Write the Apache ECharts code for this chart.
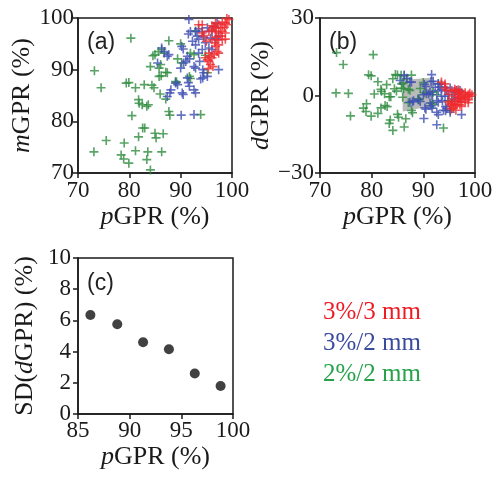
<!DOCTYPE html>
<html>
<head>
<meta charset="utf-8">
<script src="https://cdn.jsdelivr.net/npm/echarts@6/dist/echarts.min.js"></script>
<style>html,body{margin:0;padding:0;background:#fff;}#c{width:498px;height:479px;}</style>
</head>
<body>
<div id="c"></div>
<script>
// ---- data ----
const seriesNames = ['3%/3 mm', '3%/2 mm', '2%/2 mm'];

// 3%/3 mm (red)
const pRed = [96.1,96.8,97.4,98.1,98.7,99.0,98.5,97.8,96.9,96.4,95.5,96.1,96.8,97.4,98.1,98.7,96.1,96.6,97.1,97.4,98.1,98.7,95.5,95.8,96.1,96.5,95.2,95.5,95.8,94.8,96.8,97.1,97.4,94.2,94.5,99.4,99.0,93.5,94.2,97.0,95.0,97.8,95.4,96.3];
const mRed = [98.5,99.0,98.7,99.2,99.0,98.7,98.2,98.1,98.1,98.3,97.4,97.7,97.4,97.1,97.4,97.1,95.8,95.2,95.8,94.8,95.8,95.9,93.2,92.6,92.3,92.9,91.9,91.6,91.0,92.3,94.5,93.5,93.2,97.1,96.6,99.7,99.9,98.7,98.7,96.3,95.5,96.5,90.2,90.6];
const dRed = [2.4,2.2,1.3,1.1,0.3,-0.3,-0.3,0.3,1.2,1.9,1.9,1.6,0.6,-0.3,-0.7,-1.6,-0.3,-1.4,-1.3,-2.6,-2.3,-2.8,-2.3,-3.2,-3.8,-3.6,-3.3,-3.9,-4.8,-2.5,-2.3,-3.6,-4.2,2.9,2.1,0.3,0.9,5.2,4.5,-0.7,0.5,-1.3,-5.2,-5.7];

// 3%/2 mm (blue)
const pBlue = [91.6,91.9,91.5,92.9,93.5,94.2,93.2,93.5,94.5,92.3,92.9,90.2,90.5,86.3,86.8,87.4,87.7,85.5,91.3,91.7,90.0,90.6,91.0,92.6,92.9,93.7,94.3,94.5,93.9,94.3,95.2,97.4,91.3,91.5,91.7,89.4,89.0,88.1,87.9,87.4,90.3,90.5,92.6,92.9,90.1,92.6,95.8,96.8,97.4,95.5,96.1,94.2,93.5,95.2,96.1,96.5,97.1,94.8];
const mBlue = [99.7,97.4,96.9,97.4,97.9,97.4,96.5,95.9,96.3,95.5,94.8,94.5,94.0,94.2,93.5,92.6,92.9,91.3,92.6,92.1,90.3,91.3,91.6,90.6,90.3,91.6,90.0,89.4,88.2,88.4,88.7,90.0,88.4,87.5,86.8,87.1,87.4,86.1,85.5,84.8,85.5,85.2,86.1,85.5,81.2,81.3,96.1,95.9,96.5,94.2,93.9,93.9,93.2,98.1,97.4,98.4,99.0,95.2];
const dBlue = [8.1,5.5,5.4,4.5,4.4,3.2,3.3,2.4,1.8,3.2,1.9,4.3,3.5,7.9,6.7,5.2,5.2,5.8,1.3,0.4,0.3,0.7,0.6,-2.0,-2.6,-2.1,-4.3,-5.1,-5.7,-5.9,-6.5,-7.4,-2.9,-4.0,-4.9,-2.3,-1.6,-2.0,-2.4,-2.6,-4.8,-5.3,-6.5,-7.4,-8.9,-11.3,0.3,-0.9,-0.9,-1.3,-2.2,-0.3,-0.3,2.9,1.3,1.9,1.9,0.4];

// 2%/2 mm (green)
const pGreen = [80.3,73.2,74.5,79.4,79.9,81.2,82.9,84.4,84.8,80.5,81.8,81.9,82.5,83.4,83.7,75.5,73.1,79.0,78.4,78.9,79.9,81.2,81.8,82.6,83.0,83.4,83.6,84.1,85.0,85.2,86.6,86.3,84.1,84.6,85.0,85.7,85.8,86.1,86.3,86.8,87.1,87.4,85.8,86.2,86.0,87.1,87.7,87.7,87.9,89.0,89.2,90.0,89.4,90.2,91.9,91.7,91.9,92.6,93.9,95.2,94.8,92.9,75.9];
const mGreen = [96.1,89.8,86.5,87.4,87.5,86.5,87.1,87.0,86.5,81.1,84.2,83.5,83.2,82.9,83.2,76.3,74.1,75.8,73.5,72.7,71.9,74.3,77.0,78.7,78.7,72.6,74.1,70.6,77.7,76.8,77.6,74.1,90.6,92.7,92.9,93.5,90.3,91.0,93.9,93.2,89.5,89.4,88.7,88.8,85.3,84.3,95.6,81.9,81.2,87.7,87.6,95.0,92.1,91.3,93.2,88.7,88.3,92.9,81.3,89.4,92.8,97.5,68.0];
const dGreen = [15.8,16.6,12.0,8.0,7.6,5.3,4.2,2.6,1.7,0.6,2.4,1.6,0.7,-0.5,-0.5,0.8,1.0,-3.2,-4.9,-6.2,-8.0,-6.9,-4.8,-3.9,-4.3,-10.8,-9.5,-13.5,-7.3,-8.4,-9.0,-12.2,6.5,8.1,7.9,7.8,4.5,4.9,7.6,6.4,2.4,2.0,2.9,2.6,-0.7,-2.8,7.9,-5.8,-6.7,-1.3,-1.6,5.0,2.7,1.1,1.3,-3.0,-3.6,0.3,-12.6,-5.8,-2.0,4.6,-7.9];

// shaded region in panel (b): [pGPR, dGPR] vertices
const shadeVerts = [[86.0, 6.0], [92.0, 7.0], [92.0, -4.0], [86.0, -6.2]];

// panel (c): SD(dGPR) per pGPR bin
const pBins = [86.2, 88.8, 91.3, 93.8, 96.3, 98.8];
const sdD = [6.35, 5.75, 4.6, 4.15, 2.6, 1.8];

// tick values
const ticksA_x = [70, 80, 90, 100], ticksA_y = [70, 80, 90, 100];
const ticksB_y = [-30, 0, 30];
const ticksC_x = [85, 90, 95, 100], ticksC_y = [0, 2, 4, 6, 8, 10];

// ---- styling ----
const colRed = '#ef2a2e', colBlue = '#3f4fb2', colGreen = '#2e8c3e';
const legRed = '#ec1c24', legBlue = '#3a4a9f', legGreen = '#25a24a';
const AX = '#1a1a1a';
const SERIF = '"Liberation Serif", "Times New Roman", serif';
const PLUS = 'path://M4.1,0H5.9V4.1H10V5.9H5.9V10H4.1V5.9H0V4.1H4.1Z';
const zip = (a, b) => a.map((v, i) => [v, b[i]]);
const minusFmt = v => (v < 0 ? '\u2212' + Math.abs(v) : String(v));

function nameStyle() {
  return {
    fontFamily: SERIF, fontSize: 26, color: AX,
    rich: { i: { fontFamily: SERIF, fontSize: 26, fontStyle: 'italic', color: AX } }
  };
}
function axisBase(extra) {
  return Object.assign({
    type: 'value',
    axisLine: { show: true, onZero: false, lineStyle: { color: AX, width: 1.5 } },
    axisTick: { show: true, inside: false, length: 5, lineStyle: { color: AX, width: 1.5 } },
    splitLine: { show: false },
    nameLocation: 'middle',
    nameTextStyle: nameStyle()
  }, extra);
}
function lab(margin, extra) {
  return Object.assign({ fontFamily: SERIF, fontSize: 23, color: AX, margin: margin, formatter: minusFmt }, extra || {});
}
const gridBox = { show: true, borderColor: AX, borderWidth: 1.5, backgroundColor: 'transparent' };

const chart = echarts.init(document.getElementById('c'), null, { renderer: 'canvas' });
chart.setOption({
  animation: false,
  backgroundColor: '#fff',
  grid: [
    Object.assign({ left: 78, top: 18, width: 154, height: 155 }, gridBox),
    Object.assign({ left: 320, top: 18, width: 155, height: 155 }, gridBox),
    Object.assign({ left: 78, top: 258, width: 155, height: 156 }, gridBox)
  ],
  xAxis: [
    axisBase({ gridIndex: 0, min: ticksA_x[0], max: ticksA_x[ticksA_x.length - 1], interval: 10,
      name: '{i|p}GPR (%)', nameGap: 31, axisLabel: lab(6) }),
    axisBase({ gridIndex: 1, min: ticksA_x[0], max: ticksA_x[ticksA_x.length - 1], interval: 10,
      name: '{i|p}GPR (%)', nameGap: 31, axisLabel: lab(6) }),
    axisBase({ gridIndex: 2, min: ticksC_x[0], max: ticksC_x[ticksC_x.length - 1], interval: 5,
      name: '{i|p}GPR (%)', nameGap: 30, axisLabel: lab(5) })
  ],
  yAxis: [
    axisBase({ gridIndex: 0, min: ticksA_y[0], max: ticksA_y[ticksA_y.length - 1], interval: 10,
      name: '{i|m}GPR (%)', nameGap: 38, axisLabel: lab(4) }),
    axisBase({ gridIndex: 1, min: ticksB_y[0], max: ticksB_y[ticksB_y.length - 1], interval: 30,
      name: '{i|d}GPR (%)', nameGap: 38, axisLabel: lab(6) }),
    axisBase({ gridIndex: 2, min: ticksC_y[0], max: ticksC_y[ticksC_y.length - 1], interval: 2,
      name: 'SD({i|d}GPR) (%)', nameGap: 40, axisLabel: lab(7) })
  ],
  legend: {
    orient: 'vertical', left: 318, top: 300, padding: 0,
    icon: 'none', itemWidth: 0, itemHeight: 14, itemGap: 6, selectedMode: false,
    textStyle: { fontFamily: SERIF, fontSize: 25 },
    data: [
      { name: seriesNames[0], textStyle: { color: legRed } },
      { name: seriesNames[1], textStyle: { color: legBlue } },
      { name: seriesNames[2], textStyle: { color: legGreen } }
    ]
  },
  graphic: [
    { type: 'text', left: 87, top: 31, style: { text: '(a)', font: '23px "Liberation Sans"', fill: '#222' } },
    { type: 'text', left: 329, top: 31, style: { text: '(b)', font: '23px "Liberation Sans"', fill: '#222' } },
    { type: 'text', left: 87, top: 272, style: { text: '(c)', font: '23px "Liberation Sans"', fill: '#222' } }
  ],
  series: [
    {
      type: 'custom', xAxisIndex: 1, yAxisIndex: 1, z: 1, silent: true,
      data: [shadeVerts[0]],
      renderItem: function (params, api) {
        const pts = shadeVerts.map(v => api.coord(v));
        return { type: 'polygon', shape: { points: pts }, style: { fill: '#b3b3b3', opacity: 0.9 } };
      }
    },
    { name: seriesNames[2], type: 'scatter', xAxisIndex: 0, yAxisIndex: 0, clip: true, z: 2,
      symbol: PLUS, symbolSize: 9, itemStyle: { color: colGreen }, data: zip(pGreen, mGreen) },
    { name: seriesNames[1], type: 'scatter', xAxisIndex: 0, yAxisIndex: 0, clip: true, z: 3,
      symbol: PLUS, symbolSize: 9, itemStyle: { color: colBlue }, data: zip(pBlue, mBlue) },
    { name: seriesNames[0], type: 'scatter', xAxisIndex: 0, yAxisIndex: 0, clip: true, z: 4,
      symbol: PLUS, symbolSize: 9, itemStyle: { color: colRed }, data: zip(pRed, mRed) },
    { name: seriesNames[2], type: 'scatter', xAxisIndex: 1, yAxisIndex: 1, clip: true, z: 2,
      symbol: PLUS, symbolSize: 9, itemStyle: { color: colGreen }, data: zip(pGreen, dGreen) },
    { name: seriesNames[1], type: 'scatter', xAxisIndex: 1, yAxisIndex: 1, clip: true, z: 3,
      symbol: PLUS, symbolSize: 9, itemStyle: { color: colBlue }, data: zip(pBlue, dBlue) },
    { name: seriesNames[0], type: 'scatter', xAxisIndex: 1, yAxisIndex: 1, clip: true, z: 4,
      symbol: PLUS, symbolSize: 9, itemStyle: { color: colRed }, data: zip(pRed, dRed) },
    { name: 'SD(dGPR)', type: 'scatter', xAxisIndex: 2, yAxisIndex: 2, clip: true,
      symbol: 'circle', symbolSize: 10, itemStyle: { color: '#111' }, data: zip(pBins, sdD) }
  ]
});
</script>
</body>
</html>
